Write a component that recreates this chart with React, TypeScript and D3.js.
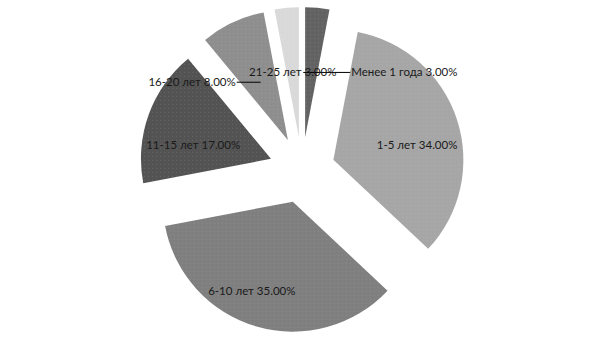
import React from "react";
import * as d3 from "d3";

// Tenure groups and their shares (percent)
const categories = ["Менее 1 года", "1-5 лет", "6-10 лет", "11-15 лет", "16-20 лет", "21-25 лет"];
const shares = [3, 34, 35, 17, 8, 3];
const sliceColors = ["#626262", "#a6a6a6", "#7f7f7f", "#535353", "#8e8e8e", "#d9d9d9"];

const W = 605;
const H = 340;
const CX = 302;
const CY = 170;
const R = 130;
const EXPLODE = 33;

// Label placement relative to each exploded slice (polar from the slice tip)
type LabelLayout = {
  r: number;
  dAng?: number;
  anchor: "start" | "middle" | "end";
  dx?: number;
  leader?: [number, number];
};
const labelLayout: LabelLayout[] = [
  { r: 65, anchor: "start", dx: 40, leader: [-8, 39] },
  { r: 85, dAng: 8, anchor: "middle" },
  { r: 98, dAng: 8.5, anchor: "middle" },
  { r: 79, dAng: -9.6, anchor: "middle" },
  { r: 64, anchor: "end", dx: -25, leader: [0, -24] },
  { r: 65, anchor: "middle" },
];

const fmt = (v: number) => `${v.toFixed(2)}%`;

export default function App() {
  const pie = d3
    .pie<number>()
    .sort(null)
    .startAngle(0)
    .endAngle(2 * Math.PI)
    .value((d) => d);
  const arcs = pie(shares);
  const arc = d3.arc<d3.PieArcDatum<number>>().innerRadius(0).outerRadius(R);

  const dir = (a: number) => [Math.sin(a), -Math.cos(a)];

  return (
    <svg
      width={W}
      height={H}
      style={{ position: "absolute", left: 0, top: 0, background: "#fff" }}
      fontFamily="Lato, 'Open Sans', sans-serif"
    >
      <defs>
        <pattern id="dots" width="4" height="4" patternUnits="userSpaceOnUse">
          <rect x="1" y="1" width="1" height="1" fill="#ffffff" opacity="0.12" />
        </pattern>
      </defs>
      <rect width={W} height={H} fill="#fff" />
      {arcs.map((a, i) => {
        const mid = (a.startAngle + a.endAngle) / 2;
        const [ux, uy] = dir(mid);
        const tx = CX + ux * EXPLODE;
        const ty = CY + uy * EXPLODE;
        return (
          <g key={categories[i]} transform={`translate(${tx},${ty})`}>
            <path d={arc(a) || ""} fill={sliceColors[i]} />
            <path d={arc(a) || ""} fill="url(#dots)" />
          </g>
        );
      })}
      {arcs.map((a, i) => {
        const mid = (a.startAngle + a.endAngle) / 2;
        const [ux, uy] = dir(mid);
        const tipX = CX + ux * EXPLODE;
        const tipY = CY + uy * EXPLODE;
        const lay = labelLayout[i];
        const ang = mid + ((lay.dAng || 0) * Math.PI) / 180;
        const [lx, ly] = dir(ang);
        const px = tipX + lx * lay.r;
        const py = tipY + ly * lay.r;
        const text = `${categories[i]} ${fmt(shares[i])}`;
        return (
          <g key={"lbl" + i}>
            {lay.leader && (
              <line
                x1={px + lay.leader[0]}
                x2={px + lay.leader[1]}
                y1={py}
                y2={py}
                stroke="#000"
                strokeWidth={1}
              />
            )}
            <text
              x={px + (lay.dx || 0)}
              y={py}
              dy="0.35em"
              textAnchor={lay.anchor}
              fontSize={11.5}
              fill="#1a1a1a"
            >
              {text}
            </text>
          </g>
        );
      })}
    </svg>
  );
}
